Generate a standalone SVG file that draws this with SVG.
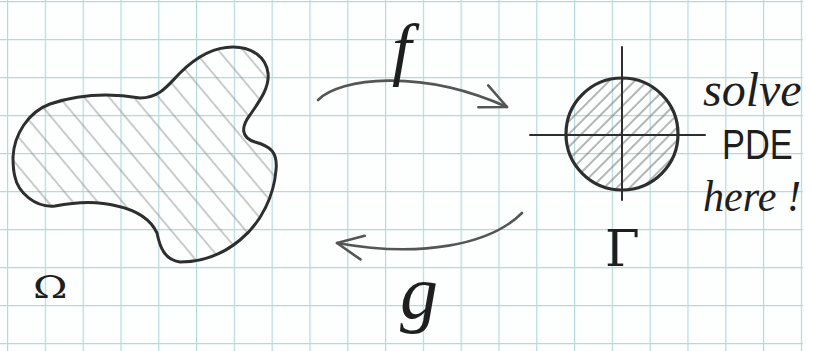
<svg xmlns="http://www.w3.org/2000/svg" width="813" height="351" viewBox="0 0 813 351">
<style>
.pen{fill:none;stroke:#2e2e2e;stroke-linecap:round;stroke-linejoin:round}
.arrow{fill:none;stroke:#555;stroke-width:2.6;stroke-linecap:round}
.hand{fill:#1e1e1e;font-family:"DejaVu Serif","Liberation Serif",serif}
.script{fill:#1e1e1e;font-family:"Liberation Serif","DejaVu Serif",serif;font-style:italic}
.print{fill:#1e1e1e;font-family:"Liberation Sans","DejaVu Sans",sans-serif}
</style>
<defs>
<pattern id="grid" patternUnits="userSpaceOnUse" x="7" y="1" width="37.8" height="38">
<path d="M0.6,0 V38 M0,0.6 H37.8" stroke="#b6d9dd" stroke-width="1.2" fill="none"/>
</pattern>
<pattern id="hatchBlob" patternUnits="userSpaceOnUse" width="19" height="10" patternTransform="rotate(-40)">
<line x1="2" y1="0" x2="2" y2="10" stroke="#8c8c8c" stroke-width="0.9"/>
</pattern>
<pattern id="hatchCircle" patternUnits="userSpaceOnUse" width="9" height="10" patternTransform="rotate(45)">
<line x1="2" y1="0" x2="2" y2="10" stroke="#6e6e6e" stroke-width="1"/>
</pattern>
<clipPath id="page"><rect x="0" y="0" width="803" height="351"/></clipPath>
<marker id="chev" markerUnits="userSpaceOnUse" viewBox="-30 -16 34 32" refX="0" refY="0" markerWidth="34" markerHeight="32" orient="auto">
<path d="M-26,-12 L0,0 L-26,12" fill="none" stroke="#555" stroke-width="2.6" stroke-linecap="round" stroke-linejoin="round"/>
</marker>
</defs>
<rect width="813" height="351" fill="#ffffff"/>
<rect width="803" height="351" fill="#fdfefe"/>
<rect width="803" height="351" fill="url(#grid)"/>

<g id="omega-domain">
<path id="blob" d="M13,157 C14,135 28,112 50,104 C80,94 110,93 140,98 C160,98 168,85 180,73 C195,58 212,47 233,47 C252,47 266,57 268,73 C270,88 258,103 250,115 C240,128 242,138 255,142 C270,146 278,152 276,170 C274,195 262,222 240,240 C222,255 200,262 180,262 C165,260 160,248 157,233 C150,218 135,210 117,206 C95,200 75,202 55,206 C35,208 18,192 15,177 C13,170 13,163 13,157 Z" fill="url(#hatchBlob)" stroke="none"/>
<path d="M13,157 C14,135 28,112 50,104 C80,94 110,93 140,98 C160,98 168,85 180,73 C195,58 212,47 233,47 C252,47 266,57 268,73 C270,88 258,103 250,115 C240,128 242,138 255,142 C270,146 278,152 276,170 C274,195 262,222 240,240 C222,255 200,262 180,262 C165,260 160,248 157,233 C150,218 135,210 117,206 C95,200 75,202 55,206 C35,208 18,192 15,177 C13,170 13,163 13,157 Z" class="pen" stroke-width="3"/>
<text class="hand" x="33" y="298" font-size="32" transform="translate(33,0) scale(1.3,1) translate(-33,0)">Ω</text>
</g>

<g id="gamma-disk">
<circle cx="622" cy="134" r="56" fill="url(#hatchCircle)"/>
<line x1="530" y1="135" x2="705" y2="135" class="pen" stroke="#444" stroke-width="2"/>
<line x1="622" y1="47" x2="622" y2="200" class="pen" stroke="#444" stroke-width="2"/>
<circle cx="622" cy="134" r="56" class="pen" stroke-width="3.2"/>
<text class="hand" x="605" y="266" font-size="50">Γ</text>
</g>

<g id="note" clip-path="url(#page)">
<text class="script" x="703" y="106" font-size="48">solve</text>
<text class="print" x="722" y="159" font-size="42" transform="translate(722,0) scale(0.82,1) translate(-722,0)">PDE</text>
<text class="script" x="703" y="211" font-size="44" textLength="98" lengthAdjust="spacingAndGlyphs">here !</text>
</g>

<g id="connectors">
<path id="f-arrow" class="arrow" d="M318,100 C340,78 420,68 507,107" marker-end="url(#chev)"/>
<text class="script" x="392" y="72" font-size="70">f</text>
<path id="g-arrow" class="arrow" d="M522,213 C490,245 420,258 337,243" marker-end="url(#chev)"/>
<text class="script" x="400" y="318" font-size="76">g</text>
</g>
</svg>
